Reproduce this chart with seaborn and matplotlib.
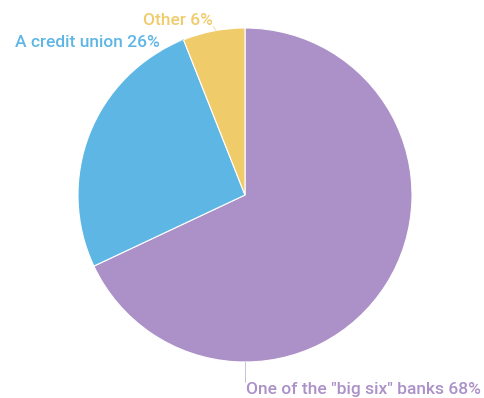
import matplotlib
matplotlib.use("Agg")
import matplotlib.pyplot as plt
import seaborn as sns
import numpy as np

categories = ['One of the "big six" banks', 'A credit union', 'Other']
values = [68, 26, 6]
colors = ["#ab91c7", "#5eb6e4", "#efcb6a"]

sns.set_theme(style="white")
plt.rcParams['font.family'] = ['Roboto', 'DejaVu Sans']

fig = plt.figure(figsize=(4.85, 3.98), dpi=100)
ax = fig.add_axes([0, 0, 1, 1])
wedges, _ = ax.pie(values, colors=colors, startangle=90, counterclock=False,
                   radius=1.0, center=(0, 0),
                   wedgeprops=dict(edgecolor="white", linewidth=0.8))
ax.set_xlim(-245 / 167, (485 - 245) / 167)
ax.set_ylim((195 - 398) / 167, 195 / 167)
ax.set_aspect('auto')
ax.axis('off')

labels = [f"{c} {v}%" for c, v in zip(categories, values)]

def rim(deg, r=1.0):
    a = np.deg2rad(deg)
    return (r * np.cos(a), r * np.sin(a))

specs = [
    (rim(-90), (0.0, -1.12), (0.006, -1.165), 'left'),
    (rim(111.6), (-0.50, 0.86), (-0.51, 0.915), 'right'),
    (rim(100), (-0.19, 1.01), (-0.19, 1.047), 'right'),
]
for (lab, col, (p0, p1, tpos, ha)) in zip(labels, colors, specs):
    ax.plot([p0[0], p1[0]], [p0[1], p1[1]], color=col, lw=0.7, alpha=0.6,
            clip_on=False)
    ax.text(tpos[0], tpos[1], lab, color=col, fontsize=12.5, fontweight='medium',
            ha=ha, va='center', clip_on=False)

fig.savefig("out.png", dpi=100)
